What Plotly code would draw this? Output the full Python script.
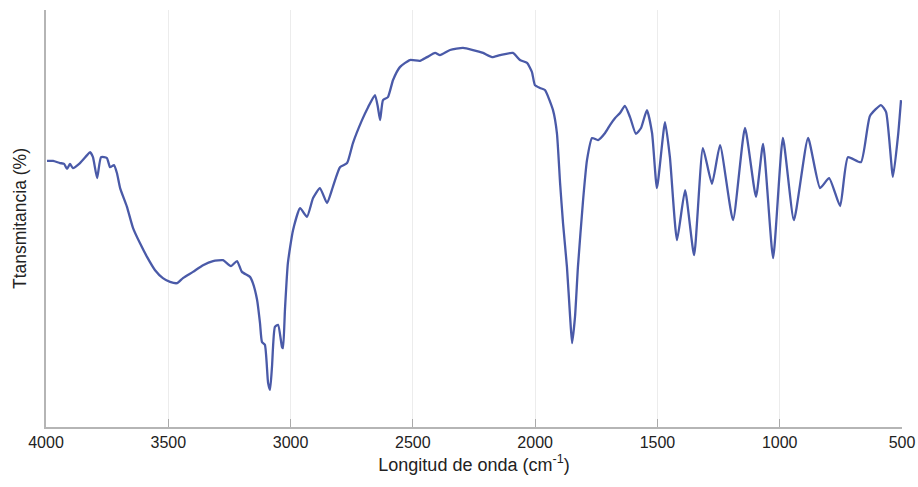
import plotly.graph_objects as go

# Wavenumber (cm^-1) and transmittance (%)
wavenumber = [3996, 3971, 3943, 3926, 3914, 3902, 3890, 3861, 3832, 3820,
              3808, 3791, 3775, 3751, 3738, 3722, 3710, 3697, 3669, 3644,
              3616, 3587, 3554, 3522, 3493, 3464, 3440, 3399, 3358, 3317,
              3276, 3244, 3219, 3199, 3166, 3154, 3137, 3125, 3117, 3105,
              3092, 3084, 3076, 3064, 3051, 3035, 3031, 3023, 3011, 2990,
              2961, 2933, 2908, 2880, 2851, 2827, 2798, 2769, 2745, 2708,
              2683, 2655, 2643, 2634, 2622, 2602, 2581, 2553, 2512, 2471,
              2442, 2409, 2389, 2348, 2295, 2254, 2213, 2176, 2144, 2091,
              2062, 2033, 2013, 2001, 1980, 1960, 1927, 1911, 1898, 1886,
              1870, 1857, 1849, 1837, 1825, 1804, 1788, 1767, 1743, 1714,
              1694, 1673, 1653, 1633, 1612, 1588, 1567, 1543, 1522, 1502,
              1469, 1449, 1420, 1387, 1350, 1314, 1277, 1244, 1191, 1142,
              1097, 1068, 1027, 987, 942, 884, 835, 798, 753, 721,
              668, 631, 586, 565, 537, 516, 504]
transmittance = [63.8, 63.8, 63.3, 63.1, 61.9, 63.1, 62.1, 63.3, 65.2, 65.9,
                 64.7, 59.7, 64.7, 64.5, 62.3, 62.8, 60.9, 57.3, 52.8, 47.7,
                 44.1, 40.8, 37.6, 35.7, 34.8, 34.5, 35.7, 37.2, 38.8, 39.8,
                 40.0, 38.6, 39.8, 37.2, 36.0, 34.5, 30.5, 24.9, 20.4, 19.7,
                 10.6, 8.9, 14.4, 24.0, 24.5, 19.2, 18.9, 28.1, 39.3, 47.2,
                 52.5, 50.4, 54.9, 57.3, 53.7, 57.6, 62.3, 63.3, 68.1, 73.6,
                 76.7, 79.6, 76.7, 73.6, 78.4, 79.1, 83.2, 86.3, 88.0, 87.8,
                 88.7, 89.7, 89.2, 90.4, 90.9, 90.4, 89.7, 88.7, 89.2, 89.7,
                 88.0, 87.3, 85.1, 82.0, 81.3, 80.8, 76.0, 70.5, 58.5, 48.9,
                 38.4, 26.4, 20.1, 26.4, 38.4, 54.4, 64.0, 69.3, 68.8, 70.5,
                 72.4, 74.1, 75.3, 77.0, 74.3, 70.3, 71.7, 76.0, 70.5, 57.3,
                 73.1, 64.7, 44.8, 56.8, 41.2, 66.9, 58.3, 67.6, 49.6, 71.7,
                 55.2, 67.9, 40.5, 69.3, 49.6, 69.3, 57.3, 59.7, 53.0, 64.7,
                 63.5, 74.6, 77.2, 75.5, 60.0, 70.0, 78.4]

x_ticks = [4000, 3500, 3000, 2500, 2000, 1500, 1000, 500]

fig = go.Figure()
fig.add_trace(go.Scatter(
    x=wavenumber, y=transmittance, mode="lines",
    line=dict(color="#4a5aa8", width=2.3, shape="spline", smoothing=0.5),
    showlegend=False, hoverinfo="skip"))

font_family = "Liberation Sans, Arial, sans-serif"

fig.update_layout(
    width=918, height=487,
    margin=dict(l=46, r=16, t=10, b=60, autoexpand=False),
    paper_bgcolor="white", plot_bgcolor="white",
    font=dict(family=font_family, color="#222", size=16),
)
fig.update_xaxes(
    range=[4000, 500], tickvals=x_ticks, ticktext=[str(v) for v in x_ticks],
    ticks="inside", ticklen=8, tickcolor="#aaaaaa", tickwidth=1,
    showline=True, linecolor="#b5b5b5", linewidth=2,
    showgrid=True, gridcolor="#ececec", gridwidth=1, zeroline=False,
    tickfont=dict(size=16, color="#222"), automargin=False,
    title=dict(text="Longitud de onda (cm<sup>-1</sup>)", font=dict(size=18), standoff=8),
)
fig.update_yaxes(
    range=[0, 100], showticklabels=False, ticks="", showgrid=False, zeroline=False,
    showline=True, linecolor="#b5b5b5", linewidth=2, automargin=False,
    title=dict(text="Ttansmitancia (%)", font=dict(size=17.5), standoff=13),
)

# Remove the default page margin so the figure fills the window exactly
fig.write_html(
    "out.html",
    config={"displayModeBar": False},
    post_script="document.body.style.margin='0';document.body.style.overflow='hidden';",
)
